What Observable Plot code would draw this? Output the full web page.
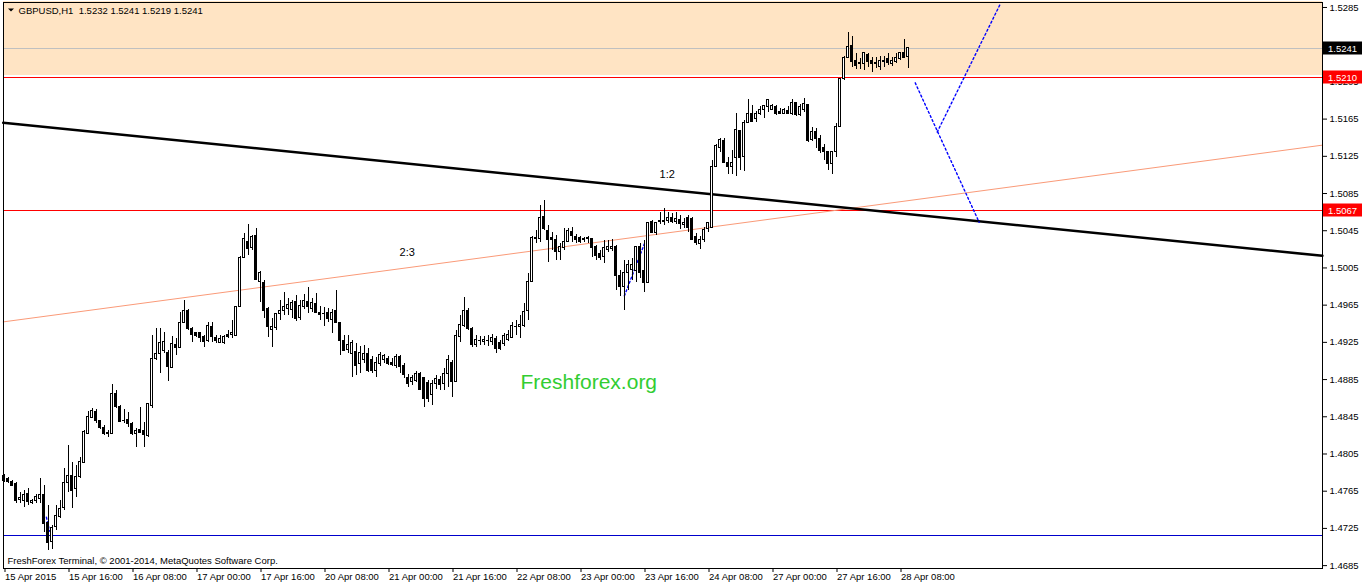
<!DOCTYPE html>
<html><head><meta charset="utf-8">
<script src="https://cdn.jsdelivr.net/npm/d3@7"></script>
<script src="https://cdn.jsdelivr.net/npm/@observablehq/plot@0.6"></script>
<style>body{margin:0;background:#fff;overflow:hidden}svg{display:block}</style>
</head><body><div id="chart"></div>
<script>
// GBPUSD H1 candles, index 0 = 15 Apr 2015 00:00
const opens = [1.4781,1.4778,1.4775,1.4773,1.4756,1.4755,1.4762,1.4752,1.4755,1.4757,1.4761,1.4731,1.4710,1.4726,1.4737,1.4747,1.4774,1.4781,1.4767,1.4780,1.4795,1.4827,1.4844,1.4850,1.4841,1.4833,1.4826,1.4827,1.4869,1.4856,1.4841,1.4842,1.4837,1.4827,1.4831,1.4830,1.4824,1.4857,1.4907,1.4913,1.4916,1.4914,1.4897,1.4922,1.4919,1.4946,1.4959,1.4939,1.4935,1.4935,1.4931,1.4926,1.4942,1.4930,1.4924,1.4924,1.4933,1.4933,1.4932,1.4963,1.5016,1.5033,1.5026,1.5039,1.4990,1.4989,1.4961,1.4938,1.4940,1.4956,1.4959,1.4961,1.4960,1.4968,1.4951,1.4963,1.4968,1.4961,1.4966,1.4957,1.4956,1.4957,1.4949,1.4959,1.4946,1.4927,1.4917,1.4913,1.4915,1.4902,1.4906,1.4912,1.4906,1.4894,1.4902,1.4906,1.4907,1.4903,1.4900,1.4909,1.4900,1.4887,1.4882,1.4884,1.4891,1.4887,1.4881,1.4868,1.4880,1.4885,1.4880,1.4891,1.4903,1.4882,1.4931,1.4943,1.4959,1.4939,1.4922,1.4927,1.4925,1.4926,1.4925,1.4929,1.4924,1.4923,1.4928,1.4930,1.4941,1.4941,1.4943,1.4959,1.4990,1.5036,1.5036,1.5060,1.5045,1.5037,1.5035,1.5022,1.5026,1.5033,1.5044,1.5038,1.5037,1.5035,1.5036,1.5036,1.5027,1.5020,1.5017,1.5024,1.5025,1.5028,1.4996,1.4985,1.5000,1.5003,1.5002,1.5028,1.5002,1.4989,1.5054,1.5043,1.5054,1.5054,1.5055,1.5059,1.5054,1.5057,1.5051,1.5059,1.5058,1.5038,1.5031,1.5035,1.5047,1.5048,1.5114,1.5134,1.5142,1.5118,1.5113,1.5123,1.5152,1.5124,1.5161,1.5171,1.5165,1.5170,1.5175,1.5178,1.5175,1.5178,1.5173,1.5171,1.5174,1.5170,1.5182,1.5169,1.5175,1.5180,1.5143,1.5151,1.5144,1.5134,1.5130,1.5117,1.5130,1.5156,1.5208,1.5231,1.5244,1.5228,1.5225,1.5224,1.5234,1.5228,1.5225,1.5221,1.5226,1.5230,1.5224,1.5226,1.5230,1.5236,1.5232];
const highs = [1.4783,1.4780,1.4776,1.4774,1.4764,1.4766,1.4768,1.4756,1.4761,1.4779,1.4771,1.4750,1.4728,1.4750,1.4755,1.4789,1.4814,1.4796,1.4793,1.4801,1.4830,1.4851,1.4854,1.4853,1.4841,1.4836,1.4830,1.4880,1.4873,1.4857,1.4853,1.4850,1.4839,1.4832,1.4855,1.4839,1.4859,1.4932,1.4940,1.4940,1.4936,1.4916,1.4931,1.4929,1.4957,1.4970,1.4960,1.4941,1.4936,1.4936,1.4932,1.4946,1.4946,1.4932,1.4932,1.4932,1.4938,1.4949,1.4964,1.5017,1.5042,1.5052,1.5040,1.5047,1.5001,1.4992,1.4963,1.4951,1.4956,1.4970,1.4979,1.4972,1.4970,1.4975,1.4970,1.4976,1.4984,1.4972,1.4978,1.4964,1.4963,1.4961,1.4960,1.4981,1.4946,1.4932,1.4932,1.4927,1.4924,1.4921,1.4922,1.4918,1.4910,1.4909,1.4914,1.4912,1.4910,1.4908,1.4912,1.4911,1.4902,1.4890,1.4889,1.4894,1.4893,1.4887,1.4884,1.4884,1.4889,1.4888,1.4897,1.4911,1.4906,1.4938,1.4954,1.4973,1.4961,1.4941,1.4932,1.4931,1.4931,1.4932,1.4933,1.4931,1.4927,1.4935,1.4938,1.4946,1.4949,1.4954,1.4967,1.4999,1.5039,1.5045,1.5072,1.5078,1.5051,1.5043,1.5040,1.5031,1.5047,1.5047,1.5049,1.5041,1.5039,1.5038,1.5039,1.5037,1.5029,1.5024,1.5035,1.5035,1.5036,1.5029,1.5002,1.5013,1.5013,1.5015,1.5028,1.5031,1.5035,1.5054,1.5056,1.5054,1.5065,1.5069,1.5065,1.5064,1.5065,1.5061,1.5058,1.5061,1.5059,1.5042,1.5039,1.5049,1.5054,1.5121,1.5138,1.5144,1.5144,1.5124,1.5131,1.5171,1.5152,1.5164,1.5186,1.5180,1.5173,1.5179,1.5180,1.5186,1.5181,1.5180,1.5176,1.5176,1.5179,1.5186,1.5183,1.5181,1.5187,1.5180,1.5156,1.5155,1.5147,1.5138,1.5130,1.5130,1.5160,1.5209,1.5232,1.5258,1.5254,1.5236,1.5230,1.5236,1.5236,1.5231,1.5231,1.5232,1.5232,1.5236,1.5231,1.5236,1.5237,1.5251,1.5241];
const lows = [1.4774,1.4773,1.4770,1.4752,1.4752,1.4747,1.4750,1.4751,1.4752,1.4752,1.4721,1.4701,1.4702,1.4723,1.4736,1.4744,1.4764,1.4746,1.4758,1.4779,1.4795,1.4827,1.4844,1.4838,1.4831,1.4825,1.4823,1.4827,1.4854,1.4839,1.4838,1.4833,1.4825,1.4812,1.4827,1.4812,1.4823,1.4854,1.4906,1.4891,1.4913,1.4883,1.4897,1.4911,1.4918,1.4945,1.4938,1.4925,1.4930,1.4925,1.4919,1.4925,1.4925,1.4924,1.4924,1.4923,1.4929,1.4929,1.4931,1.4963,1.5016,1.5018,1.5024,1.4992,1.4968,1.4951,1.4930,1.4919,1.4938,1.4949,1.4954,1.4954,1.4951,1.4947,1.4949,1.4960,1.4956,1.4957,1.4956,1.4949,1.4942,1.4946,1.4935,1.4945,1.4911,1.4915,1.4913,1.4887,1.4889,1.4891,1.4902,1.4893,1.4892,1.4887,1.4899,1.4902,1.4900,1.4899,1.4897,1.4891,1.4886,1.4877,1.4879,1.4882,1.4873,1.4855,1.4860,1.4857,1.4874,1.4873,1.4873,1.4876,1.4866,1.4882,1.4925,1.4941,1.4938,1.4919,1.4919,1.4922,1.4922,1.4921,1.4922,1.4913,1.4916,1.4921,1.4926,1.4929,1.4932,1.4929,1.4941,1.4949,1.4989,1.5031,1.5032,1.5045,1.5011,1.5024,1.5013,1.5013,1.5024,1.5032,1.5032,1.5031,1.5031,1.5032,1.5031,1.5016,1.5013,1.5013,1.5010,1.5022,1.5023,1.4981,1.4974,1.4959,1.4981,1.4992,1.4989,1.4994,1.4979,1.4988,1.5042,1.5040,1.5052,1.5051,1.5053,1.5053,1.5052,1.5046,1.5047,1.5043,1.5035,1.5029,1.5025,1.5032,1.5043,1.5047,1.5113,1.5129,1.5118,1.5105,1.5105,1.5103,1.5110,1.5109,1.5160,1.5161,1.5161,1.5169,1.5166,1.5172,1.5174,1.5169,1.5170,1.5170,1.5170,1.5169,1.5168,1.5168,1.5172,1.5140,1.5141,1.5133,1.5128,1.5121,1.5110,1.5105,1.5124,1.5156,1.5207,1.5231,1.5221,1.5218,1.5218,1.5217,1.5221,1.5215,1.5219,1.5217,1.5221,1.5223,1.5222,1.5225,1.5228,1.5230,1.5219];
const closes = [1.4776,1.4775,1.4771,1.4755,1.4758,1.4761,1.4753,1.4754,1.4759,1.4761,1.4730,1.4709,1.4725,1.4738,1.4746,1.4774,1.4781,1.4765,1.4780,1.4796,1.4829,1.4845,1.4851,1.4841,1.4833,1.4827,1.4828,1.4870,1.4856,1.4839,1.4840,1.4837,1.4827,1.4830,1.4828,1.4825,1.4859,1.4907,1.4912,1.4924,1.4925,1.4898,1.4923,1.4919,1.4946,1.4959,1.4939,1.4933,1.4932,1.4930,1.4925,1.4943,1.4931,1.4927,1.4929,1.4931,1.4931,1.4935,1.4963,1.5016,1.5036,1.5025,1.5038,1.4992,1.5000,1.4959,1.4941,1.4942,1.4956,1.4959,1.4963,1.4965,1.4967,1.4950,1.4964,1.4969,1.4963,1.4967,1.4957,1.4954,1.4955,1.4950,1.4957,1.4946,1.4926,1.4916,1.4922,1.4924,1.4900,1.4914,1.4913,1.4894,1.4894,1.4903,1.4911,1.4910,1.4902,1.4901,1.4909,1.4898,1.4890,1.4880,1.4887,1.4891,1.4874,1.4864,1.4864,1.4880,1.4886,1.4879,1.4891,1.4906,1.4882,1.4932,1.4944,1.4959,1.4939,1.4922,1.4928,1.4926,1.4928,1.4927,1.4930,1.4918,1.4918,1.4932,1.4933,1.4943,1.4942,1.4944,1.4958,1.4990,1.5037,1.5037,1.5059,1.5047,1.5035,1.5035,1.5022,1.5027,1.5033,1.5045,1.5039,1.5035,1.5033,1.5036,1.5037,1.5026,1.5018,1.5016,1.5026,1.5027,1.5028,1.4996,1.4985,1.5000,1.5008,1.5008,1.5027,1.5000,1.4989,1.5053,1.5043,1.5053,1.5055,1.5055,1.5059,1.5054,1.5058,1.5052,1.5053,1.5048,1.5035,1.5032,1.5035,1.5046,1.5053,1.5114,1.5136,1.5143,1.5118,1.5113,1.5118,1.5153,1.5123,1.5161,1.5171,1.5162,1.5170,1.5175,1.5179,1.5186,1.5179,1.5171,1.5171,1.5175,1.5171,1.5182,1.5169,1.5178,1.5181,1.5141,1.5151,1.5144,1.5131,1.5130,1.5117,1.5130,1.5157,1.5208,1.5231,1.5243,1.5226,1.5222,1.5224,1.5236,1.5226,1.5224,1.5224,1.5227,1.5228,1.5225,1.5228,1.5231,1.5236,1.5231,1.5241];

const timeTickIndex = [0,16,32,48,64,80,96,112,128,144,160,176,192,208,224];
const timeTickLabels = ["15 Apr 2015","15 Apr 16:00","16 Apr 08:00","17 Apr 00:00","17 Apr 16:00","20 Apr 08:00","21 Apr 00:00","21 Apr 16:00","22 Apr 08:00","23 Apr 00:00","23 Apr 16:00","24 Apr 08:00","27 Apr 00:00","27 Apr 16:00","28 Apr 08:00"];
const priceTicks = [1.5285,1.5245,1.5205,1.5165,1.5125,1.5085,1.5045,1.5005,1.4965,1.4925,1.4885,1.4845,1.4805,1.4765,1.4725,1.4685];

// horizontal levels
const bidLevel = 1.5241;
const redLevels = [1.5210, 1.5067];
const blueLevel = 1.4717;
const zoneLow = 1.5212, zoneHigh = 1.5291;

// trend lines (bar index, price)
const blackLineX = [-0.2, 329.6], blackLineY = [1.5161, 1.5018];
const salmonLineX = [-0.2, 329.6], salmonLineY = [1.4947, 1.5137];
const blueDashes = [
  {x: [227.8, 243.8], y: [1.5204, 1.5054]},
  {x: [233.3, 249.1], y: [1.5151, 1.5289]},
  {x: [155.1, 160.1], y: [1.4975, 1.5031]},
  {x: [10.6, 11.4], y: [1.4737, 1.4722]}
];
const ratioLabels = [{t: "2:3", x: 100.8, p: 1.5022}, {t: "1:2", x: 165.8, p: 1.5105}];

const symbol = "GBPUSD", timeframe = "H1";
const priceBoxes = [
  {p: 1.5241, bg: "#000000", fg: "#ffffff"},
  {p: 1.5210, bg: "#ff0000", fg: "#ffffff"},
  {p: 1.5067, bg: "#ff0000", fg: "#ffffff"}
];

const candles = opens.map((o, i) => ({i, o, h: highs[i], l: lows[i], c: closes[i]}));
const toPts = (xs, ys) => xs.map((x, k) => ({x, y: ys[k]}));
const last = candles[candles.length - 1];
const titleText = `${symbol},${timeframe}\u00a0 ${last.o.toFixed(4)} ${last.h.toFixed(4)} ${last.l.toFixed(4)} ${last.c.toFixed(4)}`;

const FONT = "'Liberation Sans', Arial, sans-serif";
const crisp = {shapeRendering: "crispEdges"};

const chart = Plot.plot({
  width: 1362, height: 586,
  marginTop: 2, marginBottom: 18, marginLeft: 3, marginRight: 40,
  style: {fontFamily: FONT, fontSize: "9.5px", background: "white", color: "black"},
  x: {domain: [-0.125, 329.625]},
  y: {domain: [1.46819, 1.529035]},
  marks: [
    Plot.rect([{a: zoneLow, b: zoneHigh}], {y1: "a", y2: "b", fill: "#FFE4C4", ...crisp}),
    Plot.ruleY([bidLevel], {stroke: "#C0C0C0", ...crisp}),
    Plot.ruleY(redLevels, {stroke: "#FF0000", ...crisp}),
    Plot.ruleY([blueLevel], {stroke: "#0000CC", ...crisp}),
    Plot.line(toPts(salmonLineX, salmonLineY), {x: "x", y: "y", stroke: "#FA9A78", strokeWidth: 1}),
    Plot.line(toPts(blackLineX, blackLineY), {x: "x", y: "y", stroke: "#000", strokeWidth: 2.5}),
    ...blueDashes.map(d => Plot.line(toPts(d.x, d.y), {x: "x", y: "y", stroke: "#0000FF", strokeWidth: 1.4, strokeDasharray: "2,2.5"})),
    Plot.ruleX(candles, {x: "i", y1: "l", y2: "h", stroke: "#000", ...crisp}),
    Plot.rect(candles.filter(d => d.c >= d.o), {x1: d => d.i - 0.25, x2: d => d.i + 0.25, y1: "o", y2: "c", fill: "#fff", stroke: "#000", ...crisp}),
    Plot.rect(candles.filter(d => d.c < d.o), {x1: d => d.i - 0.25, x2: d => d.i + 0.25, y1: "o", y2: "c", fill: "#000", stroke: "#000", ...crisp}),
    Plot.text(ratioLabels, {x: "x", y: "p", text: "t", fontSize: 11, fill: "#000"}),
    Plot.text(["Freshforex.org"], {frameAnchor: "top-left", dx: 517, dy: 372, textAnchor: "start", lineAnchor: "top", fontSize: 21, fill: "#32CD32"}),
    Plot.text([titleText], {frameAnchor: "top-left", dx: 15, dy: 5, textAnchor: "start", lineAnchor: "top", fontSize: 9.5, fill: "#000", className: "title-text"}),
    Plot.text(["FreshForex Terminal, \u00a9 2001-2014, MetaQuotes Software Corp."], {frameAnchor: "top-left", dx: 4, dy: 555, textAnchor: "start", lineAnchor: "top", fontSize: 9.5, fill: "#000"}),
    Plot.axisY({anchor: "right", ticks: priceTicks, tickFormat: d => d.toFixed(4), tickSize: 4, tickPadding: 3, label: null, fontSize: 9.5}),
    Plot.axisX({anchor: "bottom", ticks: timeTickIndex, tickFormat: d => timeTickLabels[timeTickIndex.indexOf(d)], tickSize: 4, tickPadding: 1, textAnchor: "start", dx: 1, label: null, fontSize: 9.5}),
    Plot.frame({stroke: "#000", ...crisp})
  ]
});

const svg = d3.select(chart);
const ys = chart.scale("y");
const xRight = 1362 - 40;
// title white background + triangle
const tnode = svg.select(".title-text text").node() || svg.select(".title-text").node();
if (tnode && tnode.getBBox) {
  const bb = tnode.getBBox();
  svg.insert("rect", ".title-text").attr("x", bb.x - 2).attr("y", bb.y).attr("width", bb.width + 4).attr("height", bb.height).attr("fill", "#fff");
}
svg.append("path").attr("d", "M8,8.5L14,8.5L11,11.5Z").attr("fill", "#000");
// price tags on the right axis
priceBoxes.forEach(b => {
  const y = ys.apply(b.p);
  svg.append("rect").attr("x", xRight + 1).attr("y", Math.round(y) - 6.5).attr("width", 40).attr("height", 13).attr("fill", b.bg);
  svg.append("text").attr("x", xRight + 6).attr("y", Math.round(y) + 3.5).attr("fill", b.fg)
    .attr("text-anchor", "start").attr("font-family", FONT).attr("font-size", "9.5px").text(b.p.toFixed(4));
});
document.getElementById("chart").appendChild(chart);
</script>
</body></html>
